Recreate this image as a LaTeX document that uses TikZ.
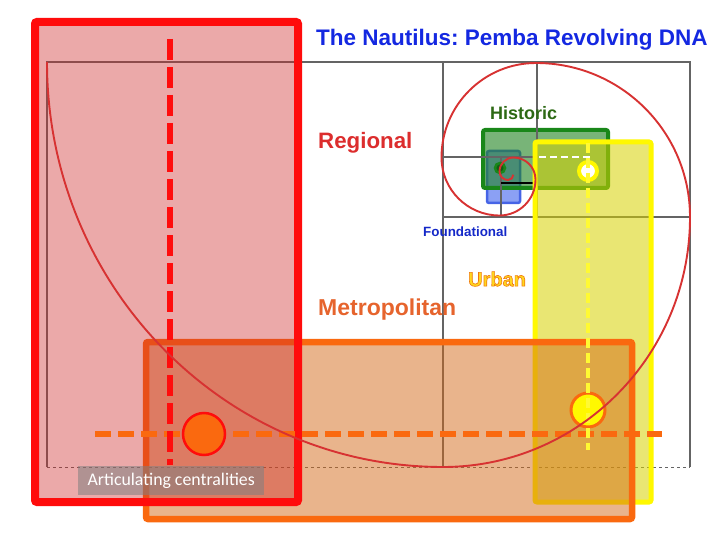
\documentclass[tikz,border=0pt]{standalone}
\usepackage{fontspec}
\setmainfont{Liberation Sans}
\newfontfamily\notefont{Carlito}
\newfontfamily\urbanfont{Liberation Sans Bold}[FakeBold=3]

\definecolor{regionred}{RGB}{255,12,12}
\definecolor{regionfill}{RGB}{205,40,40}
\definecolor{metroorange}{RGB}{250,105,15}
\definecolor{metrofill}{RGB}{211,105,25}
\definecolor{urbanyellow}{RGB}{255,248,0}
\definecolor{urbanfill}{RGB}{215,210,0}
\definecolor{urbantext}{RGB}{255,215,30}
\definecolor{histgreen}{RGB}{25,135,25}
\definecolor{histfill}{RGB}{30,130,30}
\definecolor{foundblue}{RGB}{70,100,230}
\definecolor{foundfill}{RGB}{90,120,240}
\definecolor{framegray}{RGB}{100,100,100}
\definecolor{spiralred}{RGB}{215,50,50}
\definecolor{titleblue}{RGB}{20,40,225}

\begin{document}
\begin{tikzpicture}[
    x=1pt, y=-1pt,
    gridline/.style={draw=framegray, line width=1.1},
    zone/.style={line width=#1, rounded corners=2},
    spiral/.style={draw=spiralred, line width=1.9},
    hub/.style={circle, inner sep=0},
    label/.style={font=\bfseries, inner sep=0, anchor=west},
    capbox/.style={fill=gray, fill opacity=0.55, text opacity=1, text=white, font=\notefont\fontsize{17.8}{20}\selectfont, minimum width=186, minimum height=29, inner sep=0}
]
\useasboundingbox (0,0) rectangle (720,540);

% Foundational and Historic
\draw[zone=2.5, draw=foundblue, fill=foundfill, fill opacity=0.7] (487,151) rectangle (520,203);
\draw[zone=4, draw=histgreen, fill=histfill, fill opacity=0.6] (483,130) rectangle (608,188);

% golden frame
\draw[gridline] (47,467) -- (47,62) -- (690,62) -- (690,467);
\draw[gridline, line width=0.6, dashed] (47,467) -- (690,467);
\draw[gridline] (443,62) -- (443,467);
\draw[gridline] (443,217) -- (690,217);
\draw[gridline] (537,62) -- (537,217);
\draw[gridline] (443,157) -- (537,157);
\draw[gridline] (501,157) -- (501,217);
\draw[gridline, draw=black] (501,183) -- (537,183);

% Urban
\draw[zone=5, draw=urbanyellow, fill=urbanfill, fill opacity=0.55] (535,142) rectangle (651,502);

% Metropolitan
\draw[zone=6.5, draw=metroorange, fill=metrofill, fill opacity=0.5] (146,342) rectangle (632,519);

% Regional
\draw[zone=8, draw=regionred, fill=regionfill, fill opacity=0.4] (35,22) rectangle (298,502);

% axes
\draw[metroorange, line width=6, dash pattern=on 16 off 7] (95,434) -- (662,434);
\draw[regionred, line width=6.5, dash pattern=on 21 off 7] (170,39) -- (170,465);

% centralities
\node[hub, fill=metroorange, draw=regionred, line width=2.5, minimum size=42] (metrohub) at (204,434) {};
\node[hub, fill=urbanyellow, draw=metroorange, line width=3, minimum size=34] (urbanhub) at (588,410) {};
\node[hub, fill=white, draw=urbanyellow, line width=4, minimum size=18] (urbanring) at (588,171) {};
\node[hub, fill=histfill!70!black, draw=histgreen, line width=2.5, minimum size=10] (histring) at (500,168) {};

\draw[urbanyellow!80!white, line width=3.5, dash pattern=on 10 off 5] (588,143) -- (588,450);
\draw[white, line width=2, dash pattern=on 7 off 4] (539,157) -- (593,157);

% the spiral
\draw[spiral] (47,62)
    arc[start angle=180, end angle=90, x radius=396, y radius=405]
    arc[start angle=90, end angle=0, x radius=247, y radius=250]
    arc[start angle=0, end angle=-90, radius=154]
    arc[start angle=-90, end angle=-180, radius=94.5]
    arc[start angle=180, end angle=90, radius=58]
    arc[start angle=90, end angle=0, radius=36]
    arc[start angle=0, end angle=-90, radius=22]
    arc[start angle=-90, end angle=-180, radius=14]
    arc[start angle=180, end angle=90, radius=8.5]
    arc[start angle=90, end angle=0, radius=5.3];

% labels
\node[label, text=titleblue, font=\bfseries\fontsize{22.5}{26}\selectfont] (title) at (316,40) {The Nautilus:\ Pemba Revolving DNA};
\node[label, text={rgb,255:red,220;green,45;blue,45}, font=\bfseries\fontsize{22.3}{26}\selectfont] (regional) at (318,143) {Regional};
\node[label, text={rgb,255:red,230;green,100;blue,45}, font=\bfseries\fontsize{23}{27}\selectfont] (metro) at (318,310) {Metropolitan};
\node[label, text={rgb,255:red,45;green,105;blue,20}, font=\bfseries\fontsize{18}{21}\selectfont] (historic) at (490,113) {Historic};
\node[label, text={rgb,255:red,20;green,40;blue,200}, font=\bfseries\fontsize{13.4}{16}\selectfont] (foundational) at (423,232) {Foundational};
\node[label, text=urbantext, font=\urbanfont\fontsize{20}{24}\selectfont] (urban) at (468,279) {\special{pdf:literal direct 0.94 0.47 0.06 RG}Urban};

\node[capbox, anchor=north west] (caption) at (78,466) {Articulating centralities};

\end{tikzpicture}
\end{document}
